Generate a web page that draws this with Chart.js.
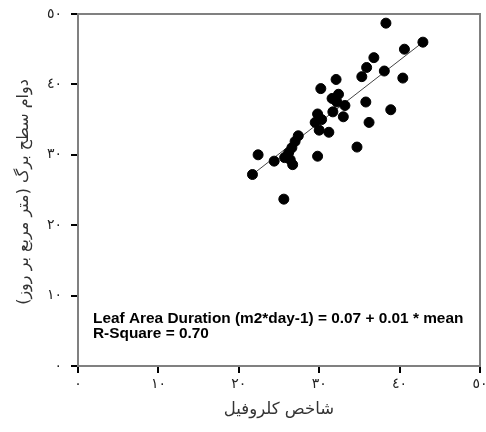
<!DOCTYPE html>
<html lang="fa">
<head>
    <meta charset="UTF-8">
    <title>Leaf Area Duration vs Chlorophyll Index</title>
    <script src="https://cdn.jsdelivr.net/npm/chart.js"></script>
    <style>
        * { margin: 0; padding: 0; box-sizing: border-box; }
        body { background: #fff; width: 486px; height: 432px; overflow: hidden; }
        .chart-box { position: relative; width: 486px; height: 432px; }
    </style>
</head>
<body>
    <div class="chart-box">
        <canvas id="scatterChart"></canvas>
    </div>

    <script>
        // chlorophyll index (x) and leaf area duration (y)
        const chlorophyll = [38.3, 42.9, 40.6, 36.8, 35.9, 35.3, 38.1, 40.4, 32.1, 30.2,
                             32.4, 32.2, 33.2, 35.8, 31.7, 33.0, 38.9, 29.8, 29.5, 36.2,
                             30.0, 31.2, 27.4, 27.0, 26.6, 34.7, 29.8, 22.4, 24.4, 25.7,
                             26.2, 26.7, 21.7, 25.6, 30.3, 31.6, 26.4];
        const leafDuration = [48.7, 46.0, 45.0, 43.8, 42.4, 41.1, 41.9, 40.9, 40.7, 39.4,
                              38.6, 37.5, 37.0, 37.5, 36.1, 35.4, 36.4, 35.8, 34.6, 34.6,
                              33.5, 33.2, 32.7, 31.9, 31.0, 31.1, 29.8, 30.0, 29.1, 29.6,
                              30.3, 28.6, 27.2, 23.7, 35.0, 38.0, 29.3];

        // fitted line end points
        const fitX = [21.7, 42.9];
        const fitY = [27.2, 46.0];

        const tickValues = [0, 10, 20, 30, 40, 50];
        const tickLabels = ['٠', '١٠', '٢٠', '٣٠', '٤٠', '٥٠'];

        const xTitle = 'شاخص کلروفیل';
        const yTitle = 'دوام سطح برگ (متر مربع بر روز)';
        const noteLines = ['Leaf Area Duration (m2*day-1) = 0.07 + 0.01 * mean', 'R-Square = 0.70'];

        const points = chlorophyll.map((x, i) => ({ x: x, y: leafDuration[i] }));
        const fitLine = fitX.map((x, i) => ({ x: x, y: fitY[i] }));

        // box, axis titles and the equation text
        const extras = {
            id: 'extras',
            afterDraw(chart) {
                const ctx = chart.ctx;
                const a = chart.chartArea;
                ctx.save();
                ctx.strokeStyle = '#808080';
                ctx.lineWidth = 2;
                ctx.beginPath();
                ctx.moveTo(a.left, a.top);
                ctx.lineTo(a.right, a.top);
                ctx.lineTo(a.right, a.bottom);
                ctx.stroke();

                ctx.fillStyle = '#000';
                ctx.font = 'bold 15.4px "Liberation Sans", Arial, sans-serif';
                ctx.textAlign = 'left';
                ctx.textBaseline = 'middle';
                ctx.fillText(noteLines[0], 93, 319);
                ctx.fillText(noteLines[1], 93, 334);

                ctx.fillStyle = '#333';
                ctx.font = '16.5px "DejaVu Sans", sans-serif';
                ctx.textAlign = 'center';
                ctx.fillText(xTitle, (a.left + a.right) / 2, 410);

                ctx.font = '16px "DejaVu Sans", sans-serif';
                ctx.translate(24, 192);
                ctx.rotate(-Math.PI / 2);
                ctx.fillText(yTitle, 0, 0);
                ctx.restore();
            }
        };

        const axisCommon = {
            type: 'linear',
            min: 0,
            max: 50,
            afterBuildTicks: (scale) => { scale.ticks = tickValues.map(v => ({ value: v })); },
            border: { color: '#808080', width: 2 },
            grid: { drawOnChartArea: false, tickLength: 7, tickColor: '#000', lineWidth: 2 },
            title: { display: false }
        };

        new Chart(document.getElementById('scatterChart'), {
            type: 'scatter',
            data: {
                datasets: [
                    {
                        label: 'points',
                        data: points,
                        backgroundColor: '#000',
                        borderColor: '#000',
                        pointRadius: 5,
                        pointHoverRadius: 5
                    },
                    {
                        type: 'line',
                        label: 'fit',
                        data: fitLine,
                        borderColor: '#444',
                        borderWidth: 1,
                        pointRadius: 0,
                        fill: false
                    }
                ]
            },
            options: {
                responsive: true,
                maintainAspectRatio: false,
                animation: false,
                layout: { padding: { top: 14, right: 6, left: 0, bottom: 0 } },
                scales: {
                    x: Object.assign({}, axisCommon, {
                        position: 'bottom',
                        afterFit: (scale) => {
                            scale.height = 66;
                            scale.paddingLeft = 0;
                            scale.paddingRight = 0;
                        },
                        ticks: {
                            padding: 3,
                            color: '#222',
                            font: { family: 'DejaVu Sans', size: 14 },
                            maxRotation: 0,
                            callback: (v) => tickLabels[tickValues.indexOf(v)]
                        }
                    }),
                    y: Object.assign({}, axisCommon, {
                        position: 'left',
                        afterFit: (scale) => {
                            scale.width = 78;
                            scale.paddingTop = 0;
                            scale.paddingBottom = 0;
                        },
                        ticks: {
                            padding: 9,
                            color: '#222',
                            font: { family: 'DejaVu Sans', size: 14 },
                            callback: (v) => tickLabels[tickValues.indexOf(v)]
                        }
                    })
                },
                plugins: {
                    legend: { display: false },
                    tooltip: { enabled: false }
                }
            },
            plugins: [extras]
        });
    </script>
</body>
</html>
